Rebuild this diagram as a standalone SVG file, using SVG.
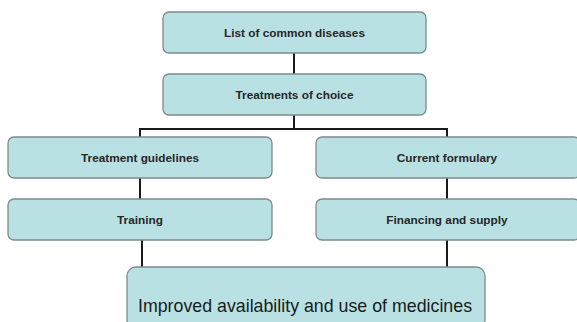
<svg xmlns="http://www.w3.org/2000/svg" width="577" height="322" viewBox="0 0 577 322">
<style>
.box{fill:#b9e1e3;stroke:#7d8b8d;stroke-width:1.3}
.t{font-family:"Liberation Sans",Arial,sans-serif;font-size:11.8px;font-weight:bold;fill:#262626;text-anchor:middle}
.big{font-size:17.8px;font-weight:normal;fill:#1a1a1a}
.c{stroke:#1a1a1a;stroke-width:2;fill:none}
</style>
<rect width="577" height="322" fill="#ffffff"/>
<g id="connectors">
<line class="c" x1="294" y1="53" x2="294" y2="74"/>
<polyline class="c" points="140,137 140,129 447,129 447,137"/>
<line class="c" x1="294" y1="115" x2="294" y2="129"/>
<line class="c" x1="140" y1="178" x2="140" y2="199"/>
<line class="c" x1="447" y1="178" x2="447" y2="199"/>
<line class="c" x1="142" y1="240" x2="142" y2="267"/>
<line class="c" x1="447" y1="240" x2="447" y2="267"/>
</g>
<g id="n1"><rect class="box" x="163" y="12" width="263" height="41" rx="6"/><text class="t" x="294.5" y="37">List of common diseases</text></g>
<g id="n2"><rect class="box" x="163" y="74" width="263" height="41" rx="6"/><text class="t" x="294.5" y="99">Treatments of choice</text></g>
<g id="n3"><rect class="box" x="8" y="137" width="264" height="41" rx="6"/><text class="t" x="140" y="162">Treatment guidelines</text></g>
<g id="n4"><rect class="box" x="8" y="199" width="264" height="41" rx="6"/><text class="t" x="140" y="224">Training</text></g>
<g id="n5"><rect class="box" x="316" y="137" width="264" height="41" rx="6"/><text class="t" x="447" y="162">Current formulary</text></g>
<g id="n6"><rect class="box" x="316" y="199" width="264" height="41" rx="6"/><text class="t" x="447" y="224">Financing and supply</text></g>
<g id="n7"><rect class="box" x="127" y="267" width="358" height="62" rx="9"/><text class="t big" x="305" y="312">Improved availability and use of medicines</text></g>
</svg>
